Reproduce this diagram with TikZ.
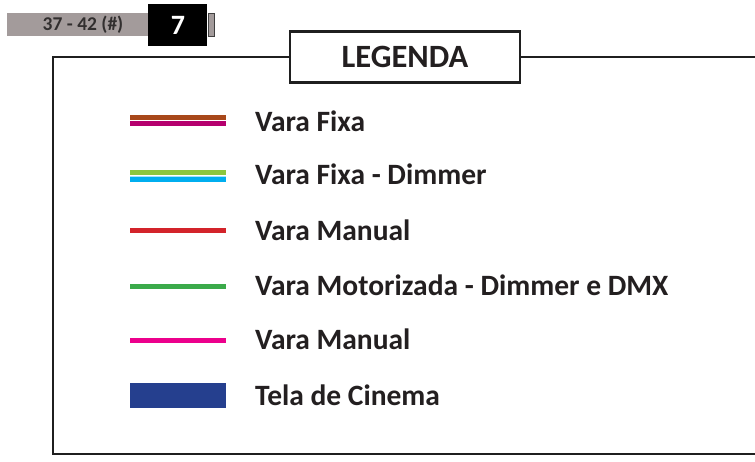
\documentclass[tikz,border=0pt]{standalone}
\usepackage{fontspec}
\setmainfont{Carlito}
\usetikzlibrary{positioning}
\definecolor{textgray}{RGB}{35,31,32}
\definecolor{taggray}{RGB}{163,155,155}
\definecolor{tagtext}{RGB}{50,47,47}
\definecolor{fixabrown}{RGB}{168,72,26}
\definecolor{fixamagenta}{RGB}{181,0,110}
\definecolor{dimgreen}{RGB}{140,198,62}
\definecolor{dimcyan}{RGB}{0,174,239}
\definecolor{manualred}{RGB}{211,35,42}
\definecolor{motorgreen}{RGB}{59,170,74}
\definecolor{manualpink}{RGB}{236,0,140}
\definecolor{telablue}{RGB}{37,63,142}
\tikzset{
    frame/.style = {draw=black!88, line width=2.4pt},
    legendbox/.style = {rectangle, draw=black!88, line width=2.4pt, fill=white,
        minimum width=230pt, minimum height=51pt, inner sep=0pt, text=textgray,
        font=\fontsize{32.5}{32.5}\selectfont\bfseries},
    entry/.style = {anchor=west, inner sep=0pt, text height=19pt, text depth=0pt,
        text=textgray, font=\fontsize{29.5}{30}\selectfont\bfseries},
    swatch/.style = {rectangle, inner sep=0pt, minimum width=96pt, anchor=west},
    tagbar/.style = {rectangle, fill=taggray, inner sep=0pt, minimum width=141pt,
        minimum height=23pt, text=tagtext, font=\fontsize{19.5}{19.5}\selectfont\bfseries},
    numbox/.style = {rectangle, fill=black, inner sep=0pt, minimum width=59pt,
        minimum height=42pt, text=white, font=\fontsize{28}{28}\selectfont\bfseries},
    tagtab/.style = {rectangle, fill=taggray, draw=black!75, line width=1pt,
        inner sep=0pt, minimum width=6pt, minimum height=23pt}}
\begin{document}
\begin{tikzpicture}[x=1pt,y=-1pt]
        \useasboundingbox (0,0) rectangle (755,461);
        % page tag
        \node[tagbar] (tag) at (77.5,24.5) {\hspace*{11pt}37 - 42 (\#)};
        \node[numbox, right=0pt of tag, yshift=-0.5pt] (num) {7};
        \node[tagtab, right=0pt of num, yshift=0.5pt] (tab) {};
        % frame and title
        \node[legendbox] (legenda) at (405,57) {LEGENDA};
        \coordinate (tl) at (53,57);
        \coordinate (bl) at (53,454);
        \coordinate (br) at (760,454);
        \coordinate (tr) at (760,57);
        \draw[frame] (legenda.west) -- (tl) -- (bl) -- (br);
        \draw[frame] (legenda.east) -- (tr);
        % double rods
        \node[swatch, fill=fixabrown, minimum height=5pt] (fixa1) at (130,117.5) {};
        \node[swatch, fill=fixamagenta, minimum height=5pt, below=1pt of fixa1.south west, anchor=north west] (fixa2) {};
        \node[swatch, fill=dimgreen, minimum height=5.5pt] (dim1) at (130,172.5) {};
        \node[swatch, fill=dimcyan!35, minimum height=1pt, below=0pt of dim1.south west, anchor=north west] (dimgap) {};
        \node[swatch, fill=dimcyan, minimum height=4.5pt, below=0pt of dimgap.south west, anchor=north west] (dim2) {};
        \node[entry] (fixatxt) at (255,121.5) {Vara Fixa};
        \node[entry] (dimtxt) at (255,174.5) {Vara Fixa - Dimmer};
        % single rods
        \foreach \y/\col/\txt [count=\i] in {230.5/manualred/Vara Manual,
                286/motorgreen/Vara Motorizada - Dimmer e DMX,
                340/manualpink/Vara Manual}{
            \node[swatch, fill=\col, minimum height=5pt] (rod\i) at (130,\y) {};
            \node[entry] (rodtxt\i) at (255,\y) {\txt};
        }
        % screen
        \node[swatch, fill=telablue, minimum height=25pt] (tela) at (130,395.5) {};
        \node[entry] (telatxt) at (255,395.5) {Tela de Cinema};
\end{tikzpicture}
\end{document}
